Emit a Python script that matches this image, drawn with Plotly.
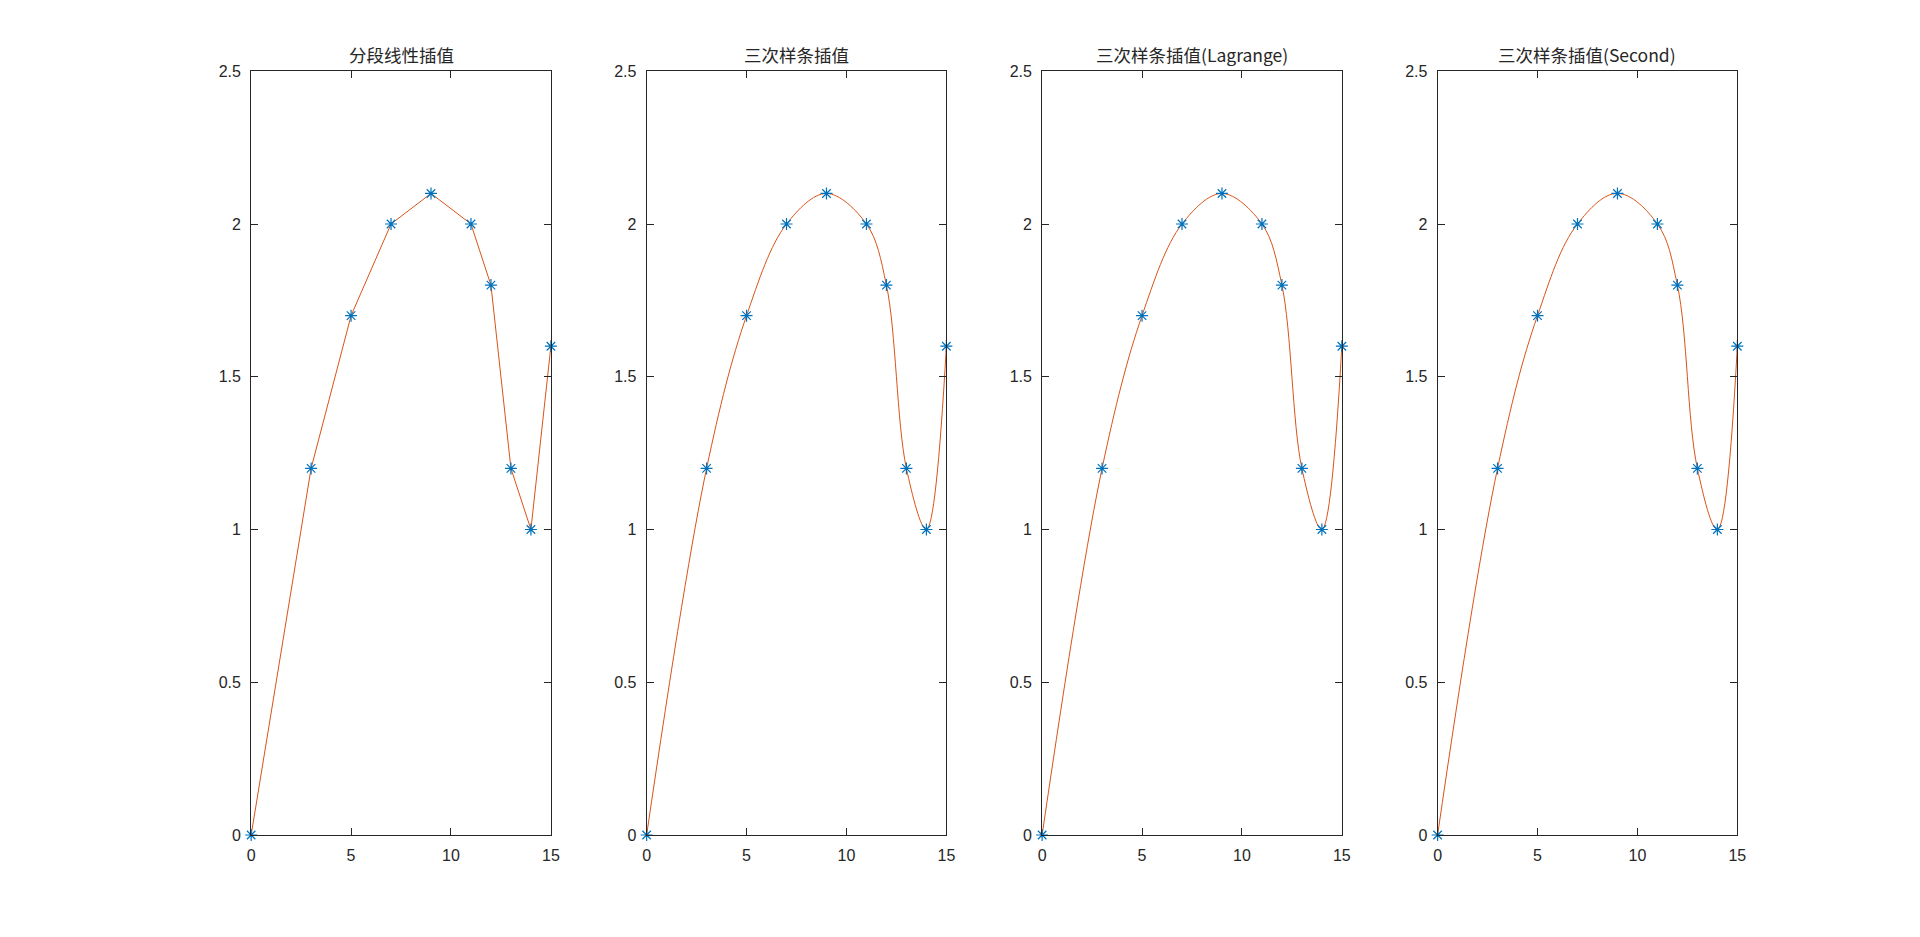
import plotly.graph_objects as go

# sample points shared by all four panels
x_pts = [0, 3, 5, 7, 9, 11, 12, 13, 14, 15]
y_pts = [0, 1.2, 1.7, 2.0, 2.1, 2.0, 1.8, 1.2, 1.0, 1.6]

titles = ["分段线性插值", "三次样条插值", "三次样条插值(Lagrange)", "三次样条插值(Second)"]
shapes = ["linear", "spline", "spline", "spline"]
smooth = [0, 1.0, 1.0, 1.05]

x_ticks = [0, 5, 10, 15]
y_ticks = [0, 0.5, 1, 1.5, 2, 2.5]

# page body keeps its 8px margin, so the figure is sized to fill what is left
PAD = 8
W, H = 1920 - 2 * PAD, 937 - 2 * PAD
LEFTS = [248.8, 647.0, 1045.2, 1443.4]
AX_W = 301.8
TOP, BOTTOM = 64.3, 842.4

AXIS = "#262626"
LINE = "#D95319"
MARK = "#0072BD"
FONT = "Liberation Sans, Arial, Noto Sans CJK SC, sans-serif"


def fx(px):
    return (px - PAD) / W


def fy(py):
    return 1 - (py - PAD) / H


fig = go.Figure()
for i in range(4):
    n = "" if i == 0 else str(i + 1)
    xa, ya = "x" + n, "y" + n
    line = {"color": LINE, "width": 1}
    if shapes[i] == "spline":
        line.update(shape="spline", smoothing=smooth[i])
    fig.add_trace(go.Scatter(x=x_pts, y=y_pts, mode="lines", xaxis=xa, yaxis=ya,
                             line=line, showlegend=False, hoverinfo="skip"))
    fig.add_trace(go.Scatter(x=x_pts, y=y_pts, mode="markers", xaxis=xa, yaxis=ya,
                             marker={"symbol": "asterisk-open", "size": 10, "color": MARK,
                                     "line": {"color": MARK, "width": 1.2}},
                             cliponaxis=False, showlegend=False))
    d0, d1 = fx(LEFTS[i]), fx(LEFTS[i] + AX_W)
    common = dict(showline=True, linecolor=AXIS, linewidth=1, mirror="ticks",
                  ticks="inside", ticklen=7, tickcolor=AXIS, showgrid=False,
                  zeroline=False, tickfont={"size": 16, "color": AXIS, "family": FONT})
    fig.layout["xaxis" + n] = dict(domain=[d0, d1], range=[0, 15], tickvals=x_ticks,
                                   anchor=ya, ticklabelstandoff=6, **common)
    fig.layout["yaxis" + n] = dict(domain=[fy(BOTTOM), fy(TOP)], range=[0, 2.5],
                                   tickvals=y_ticks, anchor=xa, ticklabelstandoff=6, **common)
    fig.add_annotation(text=titles[i], x=(d0 + d1) / 2, y=fy(TOP), xref="paper", yref="paper",
                       xanchor="center", yanchor="bottom", yshift=2, showarrow=False,
                       font={"size": 17.5, "color": AXIS,
                             "family": "Noto Sans CJK SC, Liberation Sans, sans-serif"})

fig.update_layout(width=W, height=H, margin={"l": 0, "r": 0, "t": 0, "b": 0},
                  paper_bgcolor="white", plot_bgcolor="white", font={"family": FONT})
fig.write_html("out.html")
